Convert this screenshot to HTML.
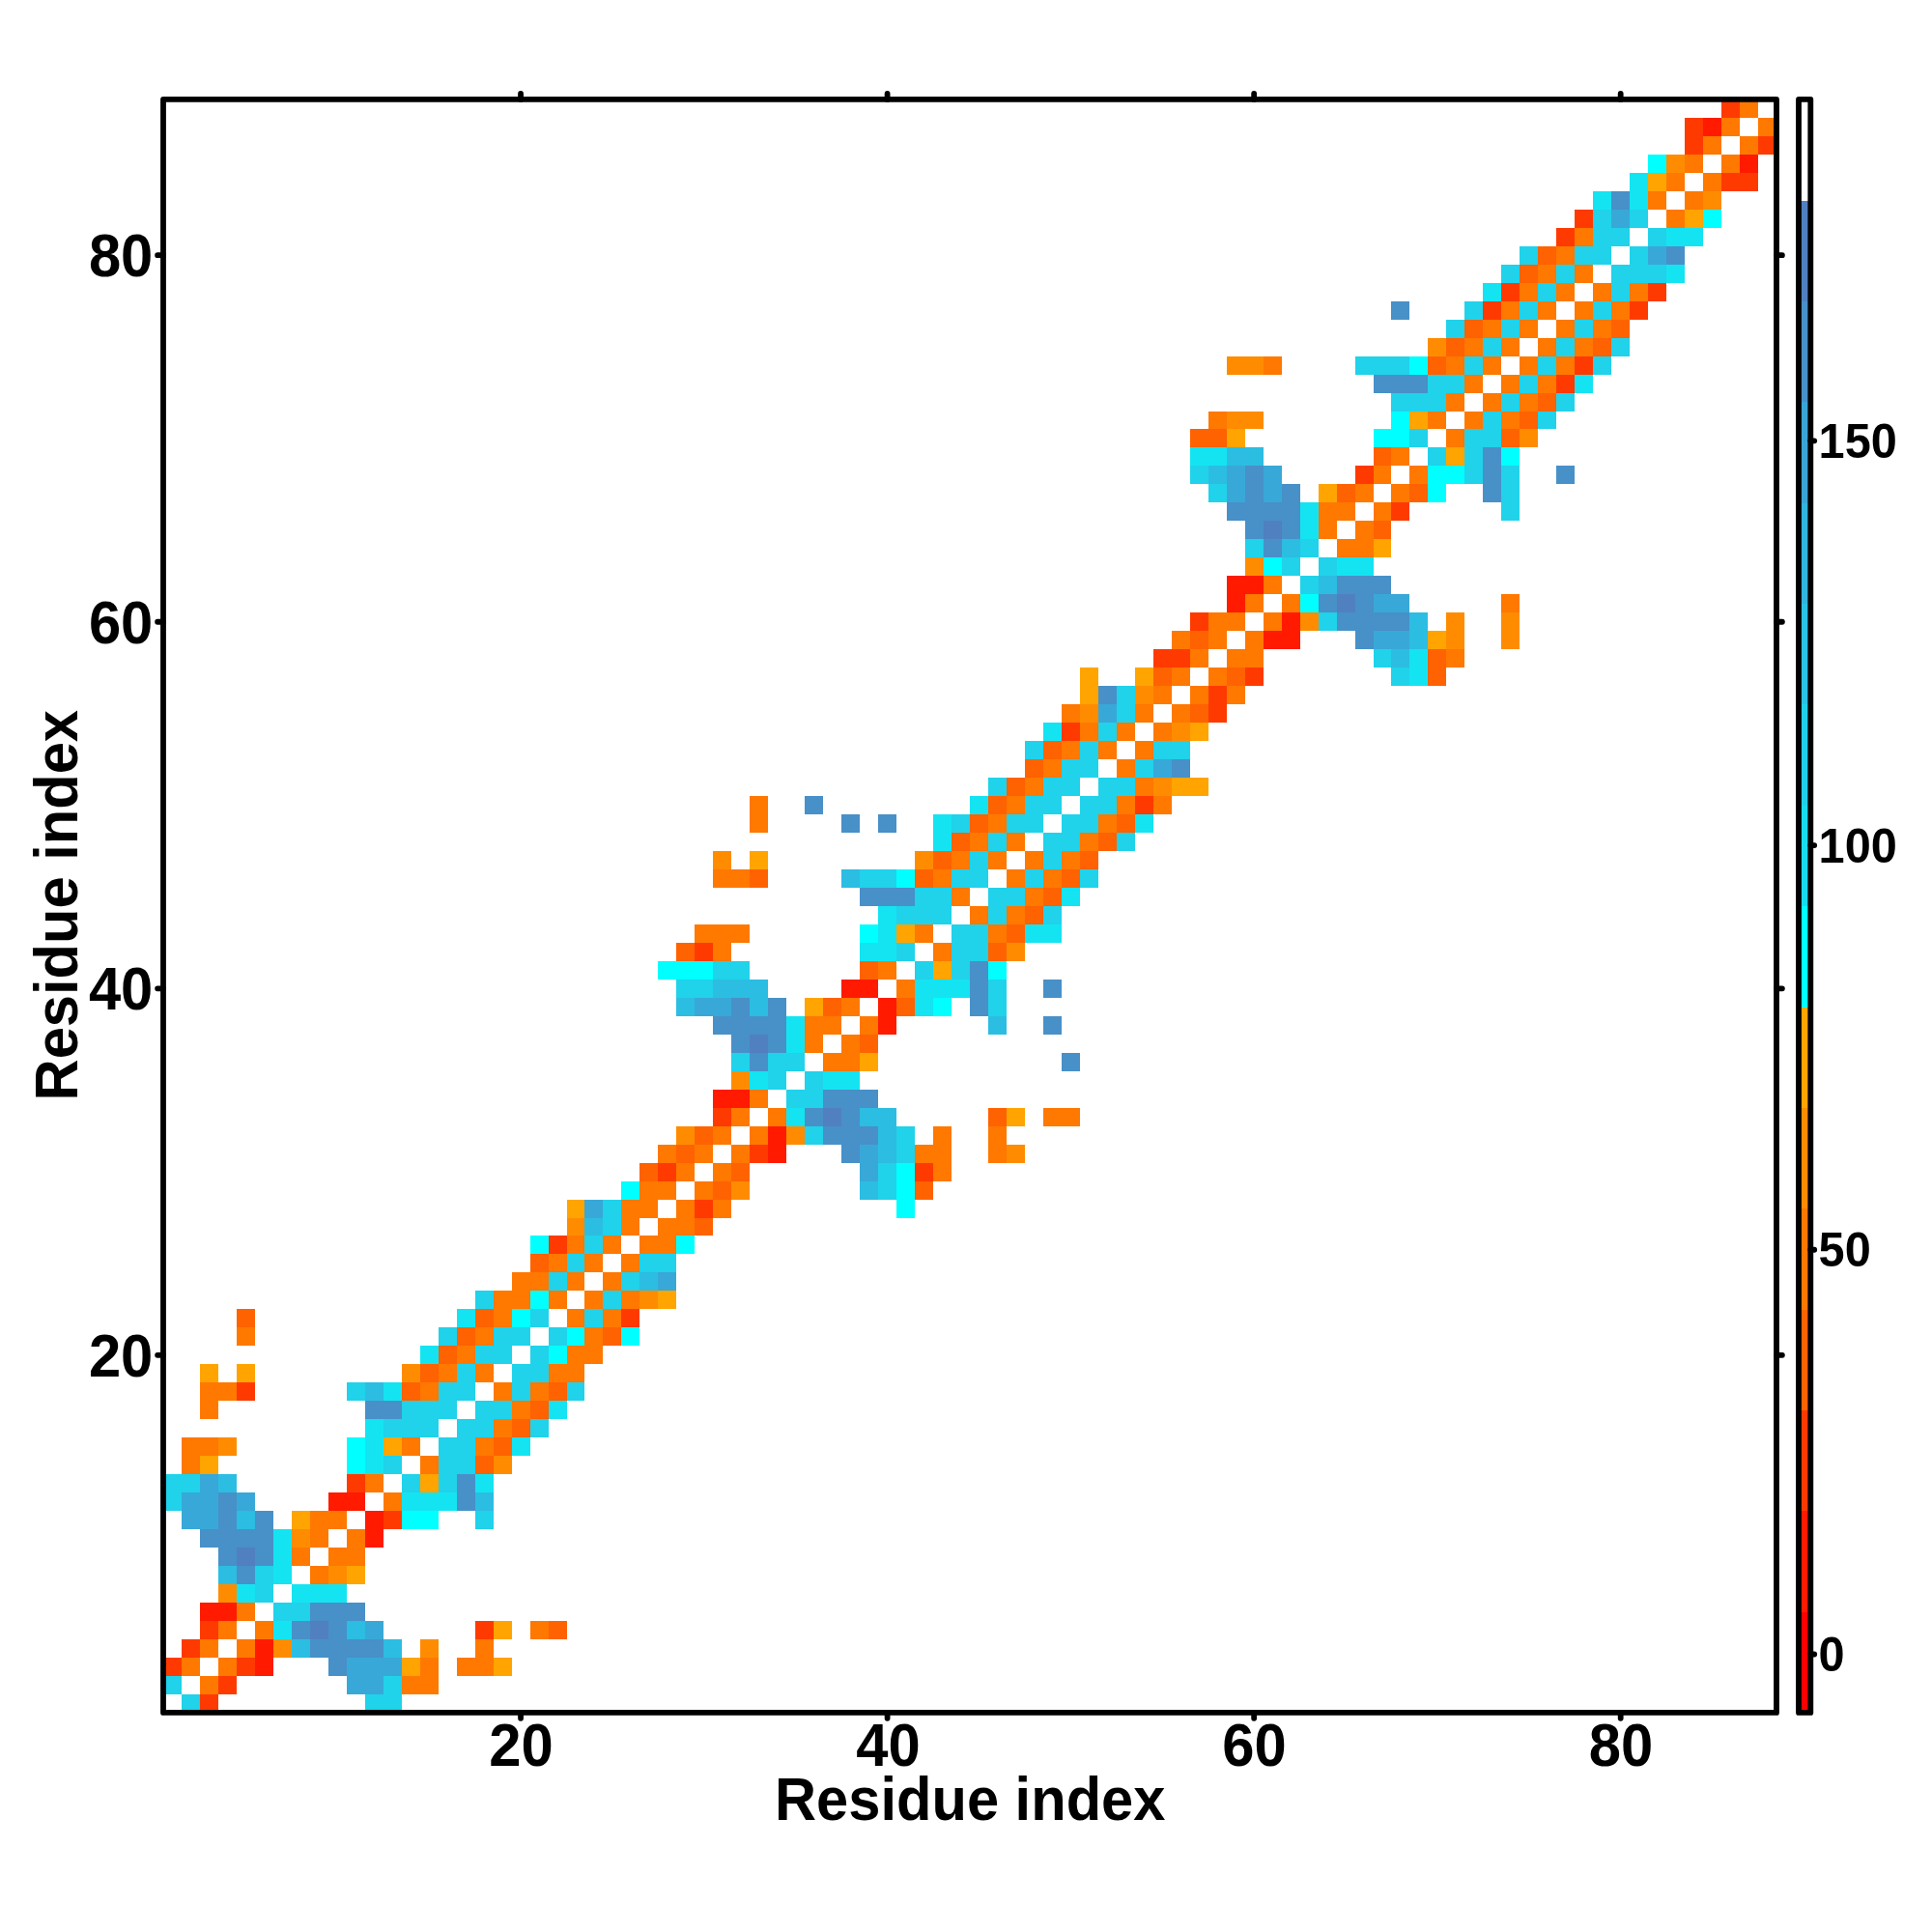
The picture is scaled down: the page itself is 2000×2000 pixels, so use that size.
<!DOCTYPE html><html><head><meta charset="utf-8"><style>html,body{margin:0;padding:0;background:#fff;overflow:hidden}svg{display:block}</style></head><body>
<svg width="2000" height="2000" viewBox="0 0 2000 2000">
<rect width="2000" height="2000" fill="#fff"/>
<g shape-rendering="crispEdges">
<rect x="187.98" y="1753.92" width="18.98" height="18.98" fill="#20d2ea"/>
<rect x="206.95" y="1753.92" width="18.98" height="18.98" fill="#ff3a00"/>
<rect x="377.75" y="1753.92" width="37.95" height="18.98" fill="#20d2ea"/>
<rect x="169.00" y="1734.95" width="18.98" height="18.98" fill="#20d2ea"/>
<rect x="206.95" y="1734.95" width="18.98" height="18.98" fill="#ff7800"/>
<rect x="225.93" y="1734.95" width="18.98" height="18.98" fill="#ff3a00"/>
<rect x="358.77" y="1734.95" width="37.95" height="18.98" fill="#38a8d8"/>
<rect x="396.73" y="1734.95" width="18.98" height="18.98" fill="#20d2ea"/>
<rect x="415.70" y="1734.95" width="37.95" height="18.98" fill="#ff7800"/>
<rect x="169.00" y="1715.97" width="18.98" height="18.98" fill="#ff3a00"/>
<rect x="187.98" y="1715.97" width="18.98" height="18.98" fill="#ff7800"/>
<rect x="225.93" y="1715.97" width="18.98" height="18.98" fill="#ff7800"/>
<rect x="244.91" y="1715.97" width="18.98" height="18.98" fill="#ff3a00"/>
<rect x="263.89" y="1715.97" width="18.98" height="18.98" fill="#ff1a00"/>
<rect x="339.80" y="1715.97" width="18.98" height="18.98" fill="#4890c8"/>
<rect x="358.77" y="1715.97" width="56.93" height="18.98" fill="#38a8d8"/>
<rect x="415.70" y="1715.97" width="18.98" height="18.98" fill="#ffa400"/>
<rect x="434.68" y="1715.97" width="18.98" height="18.98" fill="#ff7800"/>
<rect x="472.64" y="1715.97" width="37.95" height="18.98" fill="#ff7800"/>
<rect x="510.59" y="1715.97" width="18.98" height="18.98" fill="#ffa400"/>
<rect x="187.98" y="1696.99" width="18.98" height="18.98" fill="#ff3a00"/>
<rect x="206.95" y="1696.99" width="18.98" height="18.98" fill="#ff7800"/>
<rect x="244.91" y="1696.99" width="18.98" height="18.98" fill="#ff7800"/>
<rect x="263.89" y="1696.99" width="18.98" height="18.98" fill="#ff1a00"/>
<rect x="282.86" y="1696.99" width="18.98" height="18.98" fill="#ff8c00"/>
<rect x="301.84" y="1696.99" width="18.98" height="18.98" fill="#2cbde2"/>
<rect x="320.82" y="1696.99" width="75.91" height="18.98" fill="#4890c8"/>
<rect x="396.73" y="1696.99" width="18.98" height="18.98" fill="#2cbde2"/>
<rect x="434.68" y="1696.99" width="18.98" height="18.98" fill="#ff8c00"/>
<rect x="491.61" y="1696.99" width="18.98" height="18.98" fill="#ff7800"/>
<rect x="206.95" y="1678.01" width="18.98" height="18.98" fill="#ff3a00"/>
<rect x="225.93" y="1678.01" width="18.98" height="18.98" fill="#ff7800"/>
<rect x="263.89" y="1678.01" width="18.98" height="18.98" fill="#ff7800"/>
<rect x="282.86" y="1678.01" width="18.98" height="18.98" fill="#14e4f2"/>
<rect x="301.84" y="1678.01" width="18.98" height="18.98" fill="#4890c8"/>
<rect x="320.82" y="1678.01" width="18.98" height="18.98" fill="#5080c0"/>
<rect x="339.80" y="1678.01" width="18.98" height="18.98" fill="#4890c8"/>
<rect x="358.77" y="1678.01" width="18.98" height="18.98" fill="#2cbde2"/>
<rect x="377.75" y="1678.01" width="18.98" height="18.98" fill="#38a8d8"/>
<rect x="491.61" y="1678.01" width="18.98" height="18.98" fill="#ff3a00"/>
<rect x="510.59" y="1678.01" width="18.98" height="18.98" fill="#ffa400"/>
<rect x="548.55" y="1678.01" width="18.98" height="18.98" fill="#ff7800"/>
<rect x="567.52" y="1678.01" width="18.98" height="18.98" fill="#ff6200"/>
<rect x="206.95" y="1659.04" width="37.95" height="18.98" fill="#ff1a00"/>
<rect x="244.91" y="1659.04" width="18.98" height="18.98" fill="#ff7800"/>
<rect x="282.86" y="1659.04" width="37.95" height="18.98" fill="#20d2ea"/>
<rect x="320.82" y="1659.04" width="56.93" height="18.98" fill="#4890c8"/>
<rect x="225.93" y="1640.06" width="18.98" height="18.98" fill="#ff8c00"/>
<rect x="244.91" y="1640.06" width="18.98" height="18.98" fill="#14e4f2"/>
<rect x="263.89" y="1640.06" width="18.98" height="18.98" fill="#20d2ea"/>
<rect x="301.84" y="1640.06" width="56.93" height="18.98" fill="#14e4f2"/>
<rect x="225.93" y="1621.08" width="18.98" height="18.98" fill="#2cbde2"/>
<rect x="244.91" y="1621.08" width="18.98" height="18.98" fill="#4890c8"/>
<rect x="263.89" y="1621.08" width="18.98" height="18.98" fill="#20d2ea"/>
<rect x="282.86" y="1621.08" width="18.98" height="18.98" fill="#14e4f2"/>
<rect x="320.82" y="1621.08" width="18.98" height="18.98" fill="#ff7800"/>
<rect x="339.80" y="1621.08" width="18.98" height="18.98" fill="#ff8c00"/>
<rect x="358.77" y="1621.08" width="18.98" height="18.98" fill="#ffa400"/>
<rect x="225.93" y="1602.10" width="18.98" height="18.98" fill="#4890c8"/>
<rect x="244.91" y="1602.10" width="18.98" height="18.98" fill="#5080c0"/>
<rect x="263.89" y="1602.10" width="18.98" height="18.98" fill="#4890c8"/>
<rect x="282.86" y="1602.10" width="18.98" height="18.98" fill="#14e4f2"/>
<rect x="301.84" y="1602.10" width="18.98" height="18.98" fill="#ff7800"/>
<rect x="339.80" y="1602.10" width="37.95" height="18.98" fill="#ff7800"/>
<rect x="206.95" y="1583.13" width="75.91" height="18.98" fill="#4890c8"/>
<rect x="282.86" y="1583.13" width="18.98" height="18.98" fill="#14e4f2"/>
<rect x="301.84" y="1583.13" width="18.98" height="18.98" fill="#ff8c00"/>
<rect x="320.82" y="1583.13" width="18.98" height="18.98" fill="#ff7800"/>
<rect x="358.77" y="1583.13" width="18.98" height="18.98" fill="#ff7800"/>
<rect x="377.75" y="1583.13" width="18.98" height="18.98" fill="#ff1a00"/>
<rect x="187.98" y="1564.15" width="37.95" height="18.98" fill="#38a8d8"/>
<rect x="225.93" y="1564.15" width="18.98" height="18.98" fill="#4890c8"/>
<rect x="244.91" y="1564.15" width="18.98" height="18.98" fill="#2cbde2"/>
<rect x="263.89" y="1564.15" width="18.98" height="18.98" fill="#4890c8"/>
<rect x="301.84" y="1564.15" width="18.98" height="18.98" fill="#ffa400"/>
<rect x="320.82" y="1564.15" width="37.95" height="18.98" fill="#ff7800"/>
<rect x="377.75" y="1564.15" width="18.98" height="18.98" fill="#ff1a00"/>
<rect x="396.73" y="1564.15" width="18.98" height="18.98" fill="#ff3a00"/>
<rect x="415.70" y="1564.15" width="37.95" height="18.98" fill="#00ffff"/>
<rect x="491.61" y="1564.15" width="18.98" height="18.98" fill="#20d2ea"/>
<rect x="169.00" y="1545.17" width="18.98" height="18.98" fill="#20d2ea"/>
<rect x="187.98" y="1545.17" width="37.95" height="18.98" fill="#38a8d8"/>
<rect x="225.93" y="1545.17" width="18.98" height="18.98" fill="#4890c8"/>
<rect x="244.91" y="1545.17" width="18.98" height="18.98" fill="#38a8d8"/>
<rect x="339.80" y="1545.17" width="37.95" height="18.98" fill="#ff1a00"/>
<rect x="396.73" y="1545.17" width="18.98" height="18.98" fill="#ff7800"/>
<rect x="415.70" y="1545.17" width="56.93" height="18.98" fill="#14e4f2"/>
<rect x="472.64" y="1545.17" width="18.98" height="18.98" fill="#4890c8"/>
<rect x="491.61" y="1545.17" width="18.98" height="18.98" fill="#2cbde2"/>
<rect x="169.00" y="1526.20" width="37.95" height="18.98" fill="#20d2ea"/>
<rect x="206.95" y="1526.20" width="18.98" height="18.98" fill="#38a8d8"/>
<rect x="225.93" y="1526.20" width="18.98" height="18.98" fill="#2cbde2"/>
<rect x="358.77" y="1526.20" width="18.98" height="18.98" fill="#ff3a00"/>
<rect x="377.75" y="1526.20" width="18.98" height="18.98" fill="#ff7800"/>
<rect x="415.70" y="1526.20" width="18.98" height="18.98" fill="#20d2ea"/>
<rect x="434.68" y="1526.20" width="18.98" height="18.98" fill="#ffa400"/>
<rect x="453.66" y="1526.20" width="18.98" height="18.98" fill="#20d2ea"/>
<rect x="472.64" y="1526.20" width="18.98" height="18.98" fill="#4890c8"/>
<rect x="491.61" y="1526.20" width="18.98" height="18.98" fill="#14e4f2"/>
<rect x="187.98" y="1507.22" width="18.98" height="18.98" fill="#ff7800"/>
<rect x="206.95" y="1507.22" width="18.98" height="18.98" fill="#ffa400"/>
<rect x="358.77" y="1507.22" width="18.98" height="18.98" fill="#00ffff"/>
<rect x="377.75" y="1507.22" width="18.98" height="18.98" fill="#14e4f2"/>
<rect x="396.73" y="1507.22" width="18.98" height="18.98" fill="#20d2ea"/>
<rect x="434.68" y="1507.22" width="18.98" height="18.98" fill="#ff7800"/>
<rect x="453.66" y="1507.22" width="37.95" height="18.98" fill="#20d2ea"/>
<rect x="491.61" y="1507.22" width="18.98" height="18.98" fill="#ff6200"/>
<rect x="510.59" y="1507.22" width="18.98" height="18.98" fill="#ff8c00"/>
<rect x="187.98" y="1488.24" width="37.95" height="18.98" fill="#ff7800"/>
<rect x="225.93" y="1488.24" width="18.98" height="18.98" fill="#ff8c00"/>
<rect x="358.77" y="1488.24" width="18.98" height="18.98" fill="#00ffff"/>
<rect x="377.75" y="1488.24" width="18.98" height="18.98" fill="#14e4f2"/>
<rect x="396.73" y="1488.24" width="18.98" height="18.98" fill="#ffa400"/>
<rect x="415.70" y="1488.24" width="18.98" height="18.98" fill="#ff7800"/>
<rect x="453.66" y="1488.24" width="37.95" height="18.98" fill="#20d2ea"/>
<rect x="491.61" y="1488.24" width="18.98" height="18.98" fill="#ff7800"/>
<rect x="510.59" y="1488.24" width="18.98" height="18.98" fill="#ff6200"/>
<rect x="529.57" y="1488.24" width="18.98" height="18.98" fill="#14e4f2"/>
<rect x="377.75" y="1469.26" width="18.98" height="18.98" fill="#14e4f2"/>
<rect x="396.73" y="1469.26" width="56.93" height="18.98" fill="#20d2ea"/>
<rect x="472.64" y="1469.26" width="37.95" height="18.98" fill="#20d2ea"/>
<rect x="510.59" y="1469.26" width="18.98" height="18.98" fill="#ff7800"/>
<rect x="529.57" y="1469.26" width="18.98" height="18.98" fill="#ff6200"/>
<rect x="548.55" y="1469.26" width="18.98" height="18.98" fill="#20d2ea"/>
<rect x="206.95" y="1450.29" width="18.98" height="18.98" fill="#ff7800"/>
<rect x="377.75" y="1450.29" width="37.95" height="18.98" fill="#4890c8"/>
<rect x="415.70" y="1450.29" width="56.93" height="18.98" fill="#20d2ea"/>
<rect x="491.61" y="1450.29" width="37.95" height="18.98" fill="#20d2ea"/>
<rect x="529.57" y="1450.29" width="18.98" height="18.98" fill="#ff7800"/>
<rect x="548.55" y="1450.29" width="18.98" height="18.98" fill="#ff6200"/>
<rect x="567.52" y="1450.29" width="18.98" height="18.98" fill="#14e4f2"/>
<rect x="206.95" y="1431.31" width="37.95" height="18.98" fill="#ff7800"/>
<rect x="244.91" y="1431.31" width="18.98" height="18.98" fill="#ff3a00"/>
<rect x="358.77" y="1431.31" width="18.98" height="18.98" fill="#20d2ea"/>
<rect x="377.75" y="1431.31" width="18.98" height="18.98" fill="#2cbde2"/>
<rect x="396.73" y="1431.31" width="18.98" height="18.98" fill="#14e4f2"/>
<rect x="415.70" y="1431.31" width="18.98" height="18.98" fill="#ff6200"/>
<rect x="434.68" y="1431.31" width="18.98" height="18.98" fill="#ff7800"/>
<rect x="453.66" y="1431.31" width="37.95" height="18.98" fill="#20d2ea"/>
<rect x="510.59" y="1431.31" width="18.98" height="18.98" fill="#ff7800"/>
<rect x="529.57" y="1431.31" width="18.98" height="18.98" fill="#20d2ea"/>
<rect x="548.55" y="1431.31" width="18.98" height="18.98" fill="#ff7800"/>
<rect x="567.52" y="1431.31" width="18.98" height="18.98" fill="#ff6200"/>
<rect x="586.50" y="1431.31" width="18.98" height="18.98" fill="#20d2ea"/>
<rect x="206.95" y="1412.33" width="18.98" height="18.98" fill="#ffa400"/>
<rect x="244.91" y="1412.33" width="18.98" height="18.98" fill="#ffa400"/>
<rect x="415.70" y="1412.33" width="18.98" height="18.98" fill="#ff8c00"/>
<rect x="434.68" y="1412.33" width="18.98" height="18.98" fill="#ff6200"/>
<rect x="453.66" y="1412.33" width="18.98" height="18.98" fill="#ff7800"/>
<rect x="472.64" y="1412.33" width="18.98" height="18.98" fill="#20d2ea"/>
<rect x="491.61" y="1412.33" width="18.98" height="18.98" fill="#ff7800"/>
<rect x="529.57" y="1412.33" width="37.95" height="18.98" fill="#20d2ea"/>
<rect x="567.52" y="1412.33" width="37.95" height="18.98" fill="#ff7800"/>
<rect x="434.68" y="1393.35" width="18.98" height="18.98" fill="#14e4f2"/>
<rect x="453.66" y="1393.35" width="18.98" height="18.98" fill="#ff6200"/>
<rect x="472.64" y="1393.35" width="18.98" height="18.98" fill="#ff7800"/>
<rect x="491.61" y="1393.35" width="37.95" height="18.98" fill="#20d2ea"/>
<rect x="548.55" y="1393.35" width="18.98" height="18.98" fill="#20d2ea"/>
<rect x="567.52" y="1393.35" width="18.98" height="18.98" fill="#00ffff"/>
<rect x="586.50" y="1393.35" width="37.95" height="18.98" fill="#ff7800"/>
<rect x="244.91" y="1374.38" width="18.98" height="18.98" fill="#ff7800"/>
<rect x="453.66" y="1374.38" width="18.98" height="18.98" fill="#20d2ea"/>
<rect x="472.64" y="1374.38" width="18.98" height="18.98" fill="#ff6200"/>
<rect x="491.61" y="1374.38" width="18.98" height="18.98" fill="#ff7800"/>
<rect x="510.59" y="1374.38" width="37.95" height="18.98" fill="#20d2ea"/>
<rect x="567.52" y="1374.38" width="18.98" height="18.98" fill="#20d2ea"/>
<rect x="586.50" y="1374.38" width="18.98" height="18.98" fill="#00ffff"/>
<rect x="605.48" y="1374.38" width="18.98" height="18.98" fill="#ff7800"/>
<rect x="624.45" y="1374.38" width="18.98" height="18.98" fill="#ff6200"/>
<rect x="643.43" y="1374.38" width="18.98" height="18.98" fill="#00ffff"/>
<rect x="244.91" y="1355.40" width="18.98" height="18.98" fill="#ff6200"/>
<rect x="472.64" y="1355.40" width="18.98" height="18.98" fill="#14e4f2"/>
<rect x="491.61" y="1355.40" width="18.98" height="18.98" fill="#ff6200"/>
<rect x="510.59" y="1355.40" width="18.98" height="18.98" fill="#ff7800"/>
<rect x="529.57" y="1355.40" width="18.98" height="18.98" fill="#00ffff"/>
<rect x="548.55" y="1355.40" width="18.98" height="18.98" fill="#20d2ea"/>
<rect x="586.50" y="1355.40" width="18.98" height="18.98" fill="#ff7800"/>
<rect x="605.48" y="1355.40" width="18.98" height="18.98" fill="#20d2ea"/>
<rect x="624.45" y="1355.40" width="18.98" height="18.98" fill="#ff7800"/>
<rect x="643.43" y="1355.40" width="18.98" height="18.98" fill="#ff3a00"/>
<rect x="491.61" y="1336.42" width="18.98" height="18.98" fill="#20d2ea"/>
<rect x="510.59" y="1336.42" width="37.95" height="18.98" fill="#ff7800"/>
<rect x="548.55" y="1336.42" width="18.98" height="18.98" fill="#00ffff"/>
<rect x="567.52" y="1336.42" width="18.98" height="18.98" fill="#ff7800"/>
<rect x="605.48" y="1336.42" width="18.98" height="18.98" fill="#ff7800"/>
<rect x="624.45" y="1336.42" width="18.98" height="18.98" fill="#20d2ea"/>
<rect x="643.43" y="1336.42" width="18.98" height="18.98" fill="#ff7800"/>
<rect x="662.41" y="1336.42" width="18.98" height="18.98" fill="#ff8c00"/>
<rect x="681.39" y="1336.42" width="18.98" height="18.98" fill="#ffa400"/>
<rect x="529.57" y="1317.45" width="37.95" height="18.98" fill="#ff7800"/>
<rect x="567.52" y="1317.45" width="18.98" height="18.98" fill="#20d2ea"/>
<rect x="586.50" y="1317.45" width="18.98" height="18.98" fill="#ff7800"/>
<rect x="624.45" y="1317.45" width="18.98" height="18.98" fill="#ff7800"/>
<rect x="643.43" y="1317.45" width="18.98" height="18.98" fill="#20d2ea"/>
<rect x="662.41" y="1317.45" width="18.98" height="18.98" fill="#2cbde2"/>
<rect x="681.39" y="1317.45" width="18.98" height="18.98" fill="#38a8d8"/>
<rect x="548.55" y="1298.47" width="18.98" height="18.98" fill="#ff6200"/>
<rect x="567.52" y="1298.47" width="18.98" height="18.98" fill="#ff7800"/>
<rect x="586.50" y="1298.47" width="18.98" height="18.98" fill="#20d2ea"/>
<rect x="605.48" y="1298.47" width="18.98" height="18.98" fill="#ff7800"/>
<rect x="643.43" y="1298.47" width="18.98" height="18.98" fill="#ff7800"/>
<rect x="662.41" y="1298.47" width="37.95" height="18.98" fill="#20d2ea"/>
<rect x="548.55" y="1279.49" width="18.98" height="18.98" fill="#00ffff"/>
<rect x="567.52" y="1279.49" width="18.98" height="18.98" fill="#ff3a00"/>
<rect x="586.50" y="1279.49" width="18.98" height="18.98" fill="#ff7800"/>
<rect x="605.48" y="1279.49" width="18.98" height="18.98" fill="#20d2ea"/>
<rect x="624.45" y="1279.49" width="18.98" height="18.98" fill="#ff7800"/>
<rect x="662.41" y="1279.49" width="37.95" height="18.98" fill="#ff7800"/>
<rect x="700.36" y="1279.49" width="18.98" height="18.98" fill="#00ffff"/>
<rect x="586.50" y="1260.51" width="18.98" height="18.98" fill="#ff8c00"/>
<rect x="605.48" y="1260.51" width="18.98" height="18.98" fill="#2cbde2"/>
<rect x="624.45" y="1260.51" width="18.98" height="18.98" fill="#20d2ea"/>
<rect x="643.43" y="1260.51" width="18.98" height="18.98" fill="#ff7800"/>
<rect x="681.39" y="1260.51" width="37.95" height="18.98" fill="#ff7800"/>
<rect x="719.34" y="1260.51" width="18.98" height="18.98" fill="#ff6200"/>
<rect x="586.50" y="1241.54" width="18.98" height="18.98" fill="#ffa400"/>
<rect x="605.48" y="1241.54" width="18.98" height="18.98" fill="#38a8d8"/>
<rect x="624.45" y="1241.54" width="18.98" height="18.98" fill="#20d2ea"/>
<rect x="643.43" y="1241.54" width="37.95" height="18.98" fill="#ff7800"/>
<rect x="700.36" y="1241.54" width="18.98" height="18.98" fill="#ff7800"/>
<rect x="719.34" y="1241.54" width="18.98" height="18.98" fill="#ff3a00"/>
<rect x="738.32" y="1241.54" width="18.98" height="18.98" fill="#ff7800"/>
<rect x="928.09" y="1241.54" width="18.98" height="18.98" fill="#00ffff"/>
<rect x="643.43" y="1222.56" width="18.98" height="18.98" fill="#00ffff"/>
<rect x="662.41" y="1222.56" width="37.95" height="18.98" fill="#ff7800"/>
<rect x="719.34" y="1222.56" width="18.98" height="18.98" fill="#ff7800"/>
<rect x="738.32" y="1222.56" width="18.98" height="18.98" fill="#ff6200"/>
<rect x="757.30" y="1222.56" width="18.98" height="18.98" fill="#ff8c00"/>
<rect x="890.14" y="1222.56" width="18.98" height="18.98" fill="#2cbde2"/>
<rect x="909.11" y="1222.56" width="18.98" height="18.98" fill="#20d2ea"/>
<rect x="928.09" y="1222.56" width="18.98" height="18.98" fill="#00ffff"/>
<rect x="947.07" y="1222.56" width="18.98" height="18.98" fill="#ff6200"/>
<rect x="662.41" y="1203.58" width="18.98" height="18.98" fill="#ff6200"/>
<rect x="681.39" y="1203.58" width="18.98" height="18.98" fill="#ff3a00"/>
<rect x="700.36" y="1203.58" width="18.98" height="18.98" fill="#ff7800"/>
<rect x="738.32" y="1203.58" width="18.98" height="18.98" fill="#ff7800"/>
<rect x="757.30" y="1203.58" width="18.98" height="18.98" fill="#ff6200"/>
<rect x="890.14" y="1203.58" width="18.98" height="18.98" fill="#38a8d8"/>
<rect x="909.11" y="1203.58" width="18.98" height="18.98" fill="#20d2ea"/>
<rect x="928.09" y="1203.58" width="18.98" height="18.98" fill="#00ffff"/>
<rect x="947.07" y="1203.58" width="18.98" height="18.98" fill="#ff3a00"/>
<rect x="966.05" y="1203.58" width="18.98" height="18.98" fill="#ff7800"/>
<rect x="681.39" y="1184.60" width="18.98" height="18.98" fill="#ff7800"/>
<rect x="700.36" y="1184.60" width="18.98" height="18.98" fill="#ff6200"/>
<rect x="719.34" y="1184.60" width="18.98" height="18.98" fill="#ff7800"/>
<rect x="757.30" y="1184.60" width="18.98" height="18.98" fill="#ff7800"/>
<rect x="776.27" y="1184.60" width="18.98" height="18.98" fill="#ff3a00"/>
<rect x="795.25" y="1184.60" width="18.98" height="18.98" fill="#ff1a00"/>
<rect x="871.16" y="1184.60" width="18.98" height="18.98" fill="#4890c8"/>
<rect x="890.14" y="1184.60" width="18.98" height="18.98" fill="#38a8d8"/>
<rect x="909.11" y="1184.60" width="18.98" height="18.98" fill="#2cbde2"/>
<rect x="928.09" y="1184.60" width="18.98" height="18.98" fill="#20d2ea"/>
<rect x="947.07" y="1184.60" width="37.95" height="18.98" fill="#ff7800"/>
<rect x="1022.98" y="1184.60" width="18.98" height="18.98" fill="#ff7800"/>
<rect x="1041.95" y="1184.60" width="18.98" height="18.98" fill="#ff8c00"/>
<rect x="700.36" y="1165.63" width="18.98" height="18.98" fill="#ff8c00"/>
<rect x="719.34" y="1165.63" width="18.98" height="18.98" fill="#ff6200"/>
<rect x="738.32" y="1165.63" width="18.98" height="18.98" fill="#ff7800"/>
<rect x="776.27" y="1165.63" width="18.98" height="18.98" fill="#ff7800"/>
<rect x="795.25" y="1165.63" width="18.98" height="18.98" fill="#ff1a00"/>
<rect x="814.23" y="1165.63" width="18.98" height="18.98" fill="#ff8c00"/>
<rect x="833.20" y="1165.63" width="18.98" height="18.98" fill="#20d2ea"/>
<rect x="852.18" y="1165.63" width="56.93" height="18.98" fill="#4890c8"/>
<rect x="909.11" y="1165.63" width="18.98" height="18.98" fill="#2cbde2"/>
<rect x="928.09" y="1165.63" width="18.98" height="18.98" fill="#20d2ea"/>
<rect x="966.05" y="1165.63" width="18.98" height="18.98" fill="#ff7800"/>
<rect x="1022.98" y="1165.63" width="18.98" height="18.98" fill="#ff7800"/>
<rect x="738.32" y="1146.65" width="18.98" height="18.98" fill="#ff3a00"/>
<rect x="757.30" y="1146.65" width="18.98" height="18.98" fill="#ff7800"/>
<rect x="795.25" y="1146.65" width="18.98" height="18.98" fill="#ff7800"/>
<rect x="814.23" y="1146.65" width="18.98" height="18.98" fill="#14e4f2"/>
<rect x="833.20" y="1146.65" width="18.98" height="18.98" fill="#4890c8"/>
<rect x="852.18" y="1146.65" width="18.98" height="18.98" fill="#5080c0"/>
<rect x="871.16" y="1146.65" width="18.98" height="18.98" fill="#4890c8"/>
<rect x="890.14" y="1146.65" width="37.95" height="18.98" fill="#2cbde2"/>
<rect x="1022.98" y="1146.65" width="18.98" height="18.98" fill="#ff6200"/>
<rect x="1041.95" y="1146.65" width="18.98" height="18.98" fill="#ffa400"/>
<rect x="1079.91" y="1146.65" width="37.95" height="18.98" fill="#ff7800"/>
<rect x="738.32" y="1127.67" width="37.95" height="18.98" fill="#ff1a00"/>
<rect x="776.27" y="1127.67" width="18.98" height="18.98" fill="#ff7800"/>
<rect x="814.23" y="1127.67" width="37.95" height="18.98" fill="#20d2ea"/>
<rect x="852.18" y="1127.67" width="56.93" height="18.98" fill="#4890c8"/>
<rect x="757.30" y="1108.70" width="18.98" height="18.98" fill="#ff8c00"/>
<rect x="776.27" y="1108.70" width="18.98" height="18.98" fill="#14e4f2"/>
<rect x="795.25" y="1108.70" width="18.98" height="18.98" fill="#20d2ea"/>
<rect x="833.20" y="1108.70" width="18.98" height="18.98" fill="#20d2ea"/>
<rect x="852.18" y="1108.70" width="37.95" height="18.98" fill="#14e4f2"/>
<rect x="757.30" y="1089.72" width="18.98" height="18.98" fill="#20d2ea"/>
<rect x="776.27" y="1089.72" width="18.98" height="18.98" fill="#4890c8"/>
<rect x="795.25" y="1089.72" width="37.95" height="18.98" fill="#20d2ea"/>
<rect x="852.18" y="1089.72" width="37.95" height="18.98" fill="#ff7800"/>
<rect x="890.14" y="1089.72" width="18.98" height="18.98" fill="#ffa400"/>
<rect x="1098.89" y="1089.72" width="18.98" height="18.98" fill="#4890c8"/>
<rect x="757.30" y="1070.74" width="18.98" height="18.98" fill="#4890c8"/>
<rect x="776.27" y="1070.74" width="18.98" height="18.98" fill="#5080c0"/>
<rect x="795.25" y="1070.74" width="18.98" height="18.98" fill="#4890c8"/>
<rect x="814.23" y="1070.74" width="18.98" height="18.98" fill="#14e4f2"/>
<rect x="833.20" y="1070.74" width="18.98" height="18.98" fill="#ff7800"/>
<rect x="871.16" y="1070.74" width="18.98" height="18.98" fill="#ff7800"/>
<rect x="890.14" y="1070.74" width="18.98" height="18.98" fill="#ff6200"/>
<rect x="738.32" y="1051.76" width="75.91" height="18.98" fill="#4890c8"/>
<rect x="814.23" y="1051.76" width="18.98" height="18.98" fill="#14e4f2"/>
<rect x="833.20" y="1051.76" width="37.95" height="18.98" fill="#ff7800"/>
<rect x="890.14" y="1051.76" width="18.98" height="18.98" fill="#ff7800"/>
<rect x="909.11" y="1051.76" width="18.98" height="18.98" fill="#ff1a00"/>
<rect x="1022.98" y="1051.76" width="18.98" height="18.98" fill="#2cbde2"/>
<rect x="1079.91" y="1051.76" width="18.98" height="18.98" fill="#4890c8"/>
<rect x="700.36" y="1032.79" width="18.98" height="18.98" fill="#2cbde2"/>
<rect x="719.34" y="1032.79" width="37.95" height="18.98" fill="#38a8d8"/>
<rect x="757.30" y="1032.79" width="18.98" height="18.98" fill="#4890c8"/>
<rect x="776.27" y="1032.79" width="18.98" height="18.98" fill="#2cbde2"/>
<rect x="795.25" y="1032.79" width="18.98" height="18.98" fill="#4890c8"/>
<rect x="833.20" y="1032.79" width="18.98" height="18.98" fill="#ffa400"/>
<rect x="852.18" y="1032.79" width="18.98" height="18.98" fill="#ff6200"/>
<rect x="871.16" y="1032.79" width="18.98" height="18.98" fill="#ff7800"/>
<rect x="909.11" y="1032.79" width="18.98" height="18.98" fill="#ff1a00"/>
<rect x="928.09" y="1032.79" width="18.98" height="18.98" fill="#ff6200"/>
<rect x="947.07" y="1032.79" width="18.98" height="18.98" fill="#14e4f2"/>
<rect x="966.05" y="1032.79" width="18.98" height="18.98" fill="#00ffff"/>
<rect x="1004.00" y="1032.79" width="18.98" height="18.98" fill="#4890c8"/>
<rect x="1022.98" y="1032.79" width="18.98" height="18.98" fill="#20d2ea"/>
<rect x="700.36" y="1013.81" width="37.95" height="18.98" fill="#20d2ea"/>
<rect x="738.32" y="1013.81" width="56.93" height="18.98" fill="#2cbde2"/>
<rect x="871.16" y="1013.81" width="37.95" height="18.98" fill="#ff1a00"/>
<rect x="928.09" y="1013.81" width="18.98" height="18.98" fill="#ff7800"/>
<rect x="947.07" y="1013.81" width="56.93" height="18.98" fill="#14e4f2"/>
<rect x="1004.00" y="1013.81" width="18.98" height="18.98" fill="#4890c8"/>
<rect x="1022.98" y="1013.81" width="18.98" height="18.98" fill="#20d2ea"/>
<rect x="1079.91" y="1013.81" width="18.98" height="18.98" fill="#4890c8"/>
<rect x="681.39" y="994.83" width="56.93" height="18.98" fill="#00ffff"/>
<rect x="738.32" y="994.83" width="37.95" height="18.98" fill="#20d2ea"/>
<rect x="890.14" y="994.83" width="18.98" height="18.98" fill="#ff6200"/>
<rect x="909.11" y="994.83" width="18.98" height="18.98" fill="#ff7800"/>
<rect x="947.07" y="994.83" width="18.98" height="18.98" fill="#20d2ea"/>
<rect x="966.05" y="994.83" width="18.98" height="18.98" fill="#ffa400"/>
<rect x="985.02" y="994.83" width="18.98" height="18.98" fill="#20d2ea"/>
<rect x="1004.00" y="994.83" width="18.98" height="18.98" fill="#4890c8"/>
<rect x="1022.98" y="994.83" width="18.98" height="18.98" fill="#00ffff"/>
<rect x="700.36" y="975.85" width="18.98" height="18.98" fill="#ff6200"/>
<rect x="719.34" y="975.85" width="18.98" height="18.98" fill="#ff3a00"/>
<rect x="738.32" y="975.85" width="18.98" height="18.98" fill="#ff7800"/>
<rect x="890.14" y="975.85" width="37.95" height="18.98" fill="#14e4f2"/>
<rect x="928.09" y="975.85" width="18.98" height="18.98" fill="#20d2ea"/>
<rect x="966.05" y="975.85" width="18.98" height="18.98" fill="#ff7800"/>
<rect x="985.02" y="975.85" width="37.95" height="18.98" fill="#20d2ea"/>
<rect x="1022.98" y="975.85" width="18.98" height="18.98" fill="#ff6200"/>
<rect x="1041.95" y="975.85" width="18.98" height="18.98" fill="#ff8c00"/>
<rect x="719.34" y="956.88" width="56.93" height="18.98" fill="#ff7800"/>
<rect x="890.14" y="956.88" width="18.98" height="18.98" fill="#00ffff"/>
<rect x="909.11" y="956.88" width="18.98" height="18.98" fill="#14e4f2"/>
<rect x="928.09" y="956.88" width="18.98" height="18.98" fill="#ffa400"/>
<rect x="947.07" y="956.88" width="18.98" height="18.98" fill="#ff7800"/>
<rect x="985.02" y="956.88" width="37.95" height="18.98" fill="#20d2ea"/>
<rect x="1022.98" y="956.88" width="18.98" height="18.98" fill="#ff7800"/>
<rect x="1041.95" y="956.88" width="18.98" height="18.98" fill="#ff6200"/>
<rect x="1060.93" y="956.88" width="37.95" height="18.98" fill="#14e4f2"/>
<rect x="909.11" y="937.90" width="18.98" height="18.98" fill="#14e4f2"/>
<rect x="928.09" y="937.90" width="56.93" height="18.98" fill="#20d2ea"/>
<rect x="1004.00" y="937.90" width="18.98" height="18.98" fill="#ff7800"/>
<rect x="1022.98" y="937.90" width="18.98" height="18.98" fill="#20d2ea"/>
<rect x="1041.95" y="937.90" width="18.98" height="18.98" fill="#ff7800"/>
<rect x="1060.93" y="937.90" width="18.98" height="18.98" fill="#ff6200"/>
<rect x="1079.91" y="937.90" width="18.98" height="18.98" fill="#20d2ea"/>
<rect x="890.14" y="918.92" width="56.93" height="18.98" fill="#4890c8"/>
<rect x="947.07" y="918.92" width="37.95" height="18.98" fill="#20d2ea"/>
<rect x="985.02" y="918.92" width="18.98" height="18.98" fill="#ff7800"/>
<rect x="1022.98" y="918.92" width="37.95" height="18.98" fill="#20d2ea"/>
<rect x="1060.93" y="918.92" width="18.98" height="18.98" fill="#ff7800"/>
<rect x="1079.91" y="918.92" width="18.98" height="18.98" fill="#ff6200"/>
<rect x="1098.89" y="918.92" width="18.98" height="18.98" fill="#14e4f2"/>
<rect x="738.32" y="899.95" width="37.95" height="18.98" fill="#ff7800"/>
<rect x="776.27" y="899.95" width="18.98" height="18.98" fill="#ff6200"/>
<rect x="871.16" y="899.95" width="18.98" height="18.98" fill="#2cbde2"/>
<rect x="890.14" y="899.95" width="37.95" height="18.98" fill="#20d2ea"/>
<rect x="928.09" y="899.95" width="18.98" height="18.98" fill="#00ffff"/>
<rect x="947.07" y="899.95" width="18.98" height="18.98" fill="#ff6200"/>
<rect x="966.05" y="899.95" width="18.98" height="18.98" fill="#ff7800"/>
<rect x="985.02" y="899.95" width="37.95" height="18.98" fill="#20d2ea"/>
<rect x="1041.95" y="899.95" width="18.98" height="18.98" fill="#ff7800"/>
<rect x="1060.93" y="899.95" width="18.98" height="18.98" fill="#20d2ea"/>
<rect x="1079.91" y="899.95" width="18.98" height="18.98" fill="#ff7800"/>
<rect x="1098.89" y="899.95" width="18.98" height="18.98" fill="#ff6200"/>
<rect x="1117.86" y="899.95" width="18.98" height="18.98" fill="#20d2ea"/>
<rect x="738.32" y="880.97" width="18.98" height="18.98" fill="#ff8c00"/>
<rect x="776.27" y="880.97" width="18.98" height="18.98" fill="#ffa400"/>
<rect x="947.07" y="880.97" width="18.98" height="18.98" fill="#ff8c00"/>
<rect x="966.05" y="880.97" width="18.98" height="18.98" fill="#ff6200"/>
<rect x="985.02" y="880.97" width="18.98" height="18.98" fill="#ff7800"/>
<rect x="1004.00" y="880.97" width="18.98" height="18.98" fill="#20d2ea"/>
<rect x="1022.98" y="880.97" width="18.98" height="18.98" fill="#ff7800"/>
<rect x="1060.93" y="880.97" width="18.98" height="18.98" fill="#ff7800"/>
<rect x="1079.91" y="880.97" width="18.98" height="18.98" fill="#20d2ea"/>
<rect x="1098.89" y="880.97" width="18.98" height="18.98" fill="#ff7800"/>
<rect x="1117.86" y="880.97" width="18.98" height="18.98" fill="#ff6200"/>
<rect x="966.05" y="861.99" width="18.98" height="18.98" fill="#14e4f2"/>
<rect x="985.02" y="861.99" width="18.98" height="18.98" fill="#ff6200"/>
<rect x="1004.00" y="861.99" width="18.98" height="18.98" fill="#ff7800"/>
<rect x="1022.98" y="861.99" width="18.98" height="18.98" fill="#20d2ea"/>
<rect x="1041.95" y="861.99" width="18.98" height="18.98" fill="#ff7800"/>
<rect x="1079.91" y="861.99" width="37.95" height="18.98" fill="#20d2ea"/>
<rect x="1117.86" y="861.99" width="18.98" height="18.98" fill="#ff7800"/>
<rect x="1136.84" y="861.99" width="18.98" height="18.98" fill="#ff6200"/>
<rect x="1155.82" y="861.99" width="18.98" height="18.98" fill="#20d2ea"/>
<rect x="776.27" y="843.01" width="18.98" height="18.98" fill="#ff7800"/>
<rect x="871.16" y="843.01" width="18.98" height="18.98" fill="#4890c8"/>
<rect x="909.11" y="843.01" width="18.98" height="18.98" fill="#4890c8"/>
<rect x="966.05" y="843.01" width="18.98" height="18.98" fill="#14e4f2"/>
<rect x="985.02" y="843.01" width="18.98" height="18.98" fill="#20d2ea"/>
<rect x="1004.00" y="843.01" width="18.98" height="18.98" fill="#ff6200"/>
<rect x="1022.98" y="843.01" width="18.98" height="18.98" fill="#ff7800"/>
<rect x="1041.95" y="843.01" width="37.95" height="18.98" fill="#20d2ea"/>
<rect x="1098.89" y="843.01" width="37.95" height="18.98" fill="#20d2ea"/>
<rect x="1136.84" y="843.01" width="18.98" height="18.98" fill="#ff7800"/>
<rect x="1155.82" y="843.01" width="18.98" height="18.98" fill="#ff6200"/>
<rect x="1174.80" y="843.01" width="18.98" height="18.98" fill="#14e4f2"/>
<rect x="776.27" y="824.04" width="18.98" height="18.98" fill="#ff7800"/>
<rect x="833.20" y="824.04" width="18.98" height="18.98" fill="#4890c8"/>
<rect x="1004.00" y="824.04" width="18.98" height="18.98" fill="#14e4f2"/>
<rect x="1022.98" y="824.04" width="18.98" height="18.98" fill="#ff6200"/>
<rect x="1041.95" y="824.04" width="18.98" height="18.98" fill="#ff7800"/>
<rect x="1060.93" y="824.04" width="37.95" height="18.98" fill="#20d2ea"/>
<rect x="1117.86" y="824.04" width="37.95" height="18.98" fill="#20d2ea"/>
<rect x="1155.82" y="824.04" width="18.98" height="18.98" fill="#ff7800"/>
<rect x="1174.80" y="824.04" width="18.98" height="18.98" fill="#ff3a00"/>
<rect x="1193.77" y="824.04" width="18.98" height="18.98" fill="#ff7800"/>
<rect x="1022.98" y="805.06" width="18.98" height="18.98" fill="#20d2ea"/>
<rect x="1041.95" y="805.06" width="18.98" height="18.98" fill="#ff6200"/>
<rect x="1060.93" y="805.06" width="18.98" height="18.98" fill="#ff7800"/>
<rect x="1079.91" y="805.06" width="37.95" height="18.98" fill="#20d2ea"/>
<rect x="1136.84" y="805.06" width="37.95" height="18.98" fill="#20d2ea"/>
<rect x="1174.80" y="805.06" width="18.98" height="18.98" fill="#ff7800"/>
<rect x="1193.77" y="805.06" width="18.98" height="18.98" fill="#ff8c00"/>
<rect x="1212.75" y="805.06" width="37.95" height="18.98" fill="#ffa400"/>
<rect x="1060.93" y="786.08" width="18.98" height="18.98" fill="#ff6200"/>
<rect x="1079.91" y="786.08" width="18.98" height="18.98" fill="#ff7800"/>
<rect x="1098.89" y="786.08" width="37.95" height="18.98" fill="#20d2ea"/>
<rect x="1155.82" y="786.08" width="18.98" height="18.98" fill="#ff7800"/>
<rect x="1174.80" y="786.08" width="18.98" height="18.98" fill="#20d2ea"/>
<rect x="1193.77" y="786.08" width="18.98" height="18.98" fill="#38a8d8"/>
<rect x="1212.75" y="786.08" width="18.98" height="18.98" fill="#4890c8"/>
<rect x="1060.93" y="767.10" width="18.98" height="18.98" fill="#20d2ea"/>
<rect x="1079.91" y="767.10" width="18.98" height="18.98" fill="#ff6200"/>
<rect x="1098.89" y="767.10" width="18.98" height="18.98" fill="#ff7800"/>
<rect x="1117.86" y="767.10" width="18.98" height="18.98" fill="#20d2ea"/>
<rect x="1136.84" y="767.10" width="18.98" height="18.98" fill="#ff7800"/>
<rect x="1174.80" y="767.10" width="18.98" height="18.98" fill="#ff7800"/>
<rect x="1193.77" y="767.10" width="37.95" height="18.98" fill="#20d2ea"/>
<rect x="1079.91" y="748.13" width="18.98" height="18.98" fill="#14e4f2"/>
<rect x="1098.89" y="748.13" width="18.98" height="18.98" fill="#ff3a00"/>
<rect x="1117.86" y="748.13" width="18.98" height="18.98" fill="#ff7800"/>
<rect x="1136.84" y="748.13" width="18.98" height="18.98" fill="#20d2ea"/>
<rect x="1155.82" y="748.13" width="18.98" height="18.98" fill="#ff7800"/>
<rect x="1193.77" y="748.13" width="18.98" height="18.98" fill="#ff7800"/>
<rect x="1212.75" y="748.13" width="18.98" height="18.98" fill="#ff8c00"/>
<rect x="1231.73" y="748.13" width="18.98" height="18.98" fill="#ffa400"/>
<rect x="1098.89" y="729.15" width="18.98" height="18.98" fill="#ff7800"/>
<rect x="1117.86" y="729.15" width="18.98" height="18.98" fill="#ff8c00"/>
<rect x="1136.84" y="729.15" width="18.98" height="18.98" fill="#38a8d8"/>
<rect x="1155.82" y="729.15" width="18.98" height="18.98" fill="#20d2ea"/>
<rect x="1174.80" y="729.15" width="18.98" height="18.98" fill="#ff7800"/>
<rect x="1212.75" y="729.15" width="18.98" height="18.98" fill="#ff7800"/>
<rect x="1231.73" y="729.15" width="18.98" height="18.98" fill="#ff6200"/>
<rect x="1250.70" y="729.15" width="18.98" height="18.98" fill="#ff3a00"/>
<rect x="1117.86" y="710.17" width="18.98" height="18.98" fill="#ffa400"/>
<rect x="1136.84" y="710.17" width="18.98" height="18.98" fill="#4890c8"/>
<rect x="1155.82" y="710.17" width="18.98" height="18.98" fill="#20d2ea"/>
<rect x="1174.80" y="710.17" width="18.98" height="18.98" fill="#ff8c00"/>
<rect x="1193.77" y="710.17" width="18.98" height="18.98" fill="#ff7800"/>
<rect x="1231.73" y="710.17" width="18.98" height="18.98" fill="#ff7800"/>
<rect x="1250.70" y="710.17" width="18.98" height="18.98" fill="#ff3a00"/>
<rect x="1269.68" y="710.17" width="18.98" height="18.98" fill="#ff7800"/>
<rect x="1117.86" y="691.20" width="18.98" height="18.98" fill="#ffa400"/>
<rect x="1174.80" y="691.20" width="18.98" height="18.98" fill="#ffa400"/>
<rect x="1193.77" y="691.20" width="18.98" height="18.98" fill="#ff6200"/>
<rect x="1212.75" y="691.20" width="18.98" height="18.98" fill="#ff7800"/>
<rect x="1250.70" y="691.20" width="18.98" height="18.98" fill="#ff7800"/>
<rect x="1269.68" y="691.20" width="18.98" height="18.98" fill="#ff6200"/>
<rect x="1288.66" y="691.20" width="18.98" height="18.98" fill="#ff3a00"/>
<rect x="1440.48" y="691.20" width="18.98" height="18.98" fill="#20d2ea"/>
<rect x="1459.45" y="691.20" width="18.98" height="18.98" fill="#14e4f2"/>
<rect x="1478.43" y="691.20" width="18.98" height="18.98" fill="#ff6200"/>
<rect x="1193.77" y="672.22" width="37.95" height="18.98" fill="#ff3a00"/>
<rect x="1231.73" y="672.22" width="18.98" height="18.98" fill="#ff7800"/>
<rect x="1269.68" y="672.22" width="37.95" height="18.98" fill="#ff7800"/>
<rect x="1421.50" y="672.22" width="18.98" height="18.98" fill="#20d2ea"/>
<rect x="1440.48" y="672.22" width="18.98" height="18.98" fill="#2cbde2"/>
<rect x="1459.45" y="672.22" width="18.98" height="18.98" fill="#14e4f2"/>
<rect x="1478.43" y="672.22" width="18.98" height="18.98" fill="#ff6200"/>
<rect x="1497.41" y="672.22" width="18.98" height="18.98" fill="#ff7800"/>
<rect x="1212.75" y="653.24" width="18.98" height="18.98" fill="#ff7800"/>
<rect x="1231.73" y="653.24" width="18.98" height="18.98" fill="#ff6200"/>
<rect x="1250.70" y="653.24" width="18.98" height="18.98" fill="#ff7800"/>
<rect x="1288.66" y="653.24" width="18.98" height="18.98" fill="#ff7800"/>
<rect x="1307.64" y="653.24" width="37.95" height="18.98" fill="#ff1a00"/>
<rect x="1402.52" y="653.24" width="18.98" height="18.98" fill="#4890c8"/>
<rect x="1421.50" y="653.24" width="37.95" height="18.98" fill="#38a8d8"/>
<rect x="1459.45" y="653.24" width="18.98" height="18.98" fill="#2cbde2"/>
<rect x="1478.43" y="653.24" width="18.98" height="18.98" fill="#ffa400"/>
<rect x="1497.41" y="653.24" width="18.98" height="18.98" fill="#ff8c00"/>
<rect x="1554.34" y="653.24" width="18.98" height="18.98" fill="#ff8c00"/>
<rect x="1231.73" y="634.26" width="18.98" height="18.98" fill="#ff3a00"/>
<rect x="1250.70" y="634.26" width="37.95" height="18.98" fill="#ff7800"/>
<rect x="1307.64" y="634.26" width="18.98" height="18.98" fill="#ff7800"/>
<rect x="1326.61" y="634.26" width="18.98" height="18.98" fill="#ff1a00"/>
<rect x="1345.59" y="634.26" width="18.98" height="18.98" fill="#ff8c00"/>
<rect x="1364.57" y="634.26" width="18.98" height="18.98" fill="#20d2ea"/>
<rect x="1383.55" y="634.26" width="75.91" height="18.98" fill="#4890c8"/>
<rect x="1459.45" y="634.26" width="18.98" height="18.98" fill="#2cbde2"/>
<rect x="1497.41" y="634.26" width="18.98" height="18.98" fill="#ff8c00"/>
<rect x="1554.34" y="634.26" width="18.98" height="18.98" fill="#ff8c00"/>
<rect x="1269.68" y="615.29" width="18.98" height="18.98" fill="#ff1a00"/>
<rect x="1288.66" y="615.29" width="18.98" height="18.98" fill="#ff7800"/>
<rect x="1326.61" y="615.29" width="18.98" height="18.98" fill="#ff7800"/>
<rect x="1345.59" y="615.29" width="18.98" height="18.98" fill="#00ffff"/>
<rect x="1364.57" y="615.29" width="18.98" height="18.98" fill="#4890c8"/>
<rect x="1383.55" y="615.29" width="18.98" height="18.98" fill="#5080c0"/>
<rect x="1402.52" y="615.29" width="18.98" height="18.98" fill="#4890c8"/>
<rect x="1421.50" y="615.29" width="37.95" height="18.98" fill="#38a8d8"/>
<rect x="1554.34" y="615.29" width="18.98" height="18.98" fill="#ff7800"/>
<rect x="1269.68" y="596.31" width="37.95" height="18.98" fill="#ff1a00"/>
<rect x="1307.64" y="596.31" width="18.98" height="18.98" fill="#ff7800"/>
<rect x="1345.59" y="596.31" width="18.98" height="18.98" fill="#20d2ea"/>
<rect x="1364.57" y="596.31" width="18.98" height="18.98" fill="#2cbde2"/>
<rect x="1383.55" y="596.31" width="56.93" height="18.98" fill="#4890c8"/>
<rect x="1288.66" y="577.33" width="18.98" height="18.98" fill="#ff8c00"/>
<rect x="1307.64" y="577.33" width="18.98" height="18.98" fill="#00ffff"/>
<rect x="1326.61" y="577.33" width="18.98" height="18.98" fill="#20d2ea"/>
<rect x="1364.57" y="577.33" width="18.98" height="18.98" fill="#20d2ea"/>
<rect x="1383.55" y="577.33" width="37.95" height="18.98" fill="#14e4f2"/>
<rect x="1288.66" y="558.35" width="18.98" height="18.98" fill="#20d2ea"/>
<rect x="1307.64" y="558.35" width="18.98" height="18.98" fill="#4890c8"/>
<rect x="1326.61" y="558.35" width="18.98" height="18.98" fill="#2cbde2"/>
<rect x="1345.59" y="558.35" width="18.98" height="18.98" fill="#20d2ea"/>
<rect x="1383.55" y="558.35" width="37.95" height="18.98" fill="#ff7800"/>
<rect x="1421.50" y="558.35" width="18.98" height="18.98" fill="#ffa400"/>
<rect x="1288.66" y="539.38" width="18.98" height="18.98" fill="#4890c8"/>
<rect x="1307.64" y="539.38" width="18.98" height="18.98" fill="#5080c0"/>
<rect x="1326.61" y="539.38" width="18.98" height="18.98" fill="#4890c8"/>
<rect x="1345.59" y="539.38" width="18.98" height="18.98" fill="#14e4f2"/>
<rect x="1364.57" y="539.38" width="18.98" height="18.98" fill="#ff7800"/>
<rect x="1402.52" y="539.38" width="18.98" height="18.98" fill="#ff7800"/>
<rect x="1421.50" y="539.38" width="18.98" height="18.98" fill="#ff6200"/>
<rect x="1269.68" y="520.40" width="75.91" height="18.98" fill="#4890c8"/>
<rect x="1345.59" y="520.40" width="18.98" height="18.98" fill="#14e4f2"/>
<rect x="1364.57" y="520.40" width="37.95" height="18.98" fill="#ff7800"/>
<rect x="1421.50" y="520.40" width="18.98" height="18.98" fill="#ff7800"/>
<rect x="1440.48" y="520.40" width="18.98" height="18.98" fill="#ff3a00"/>
<rect x="1554.34" y="520.40" width="18.98" height="18.98" fill="#20d2ea"/>
<rect x="1250.70" y="501.42" width="18.98" height="18.98" fill="#20d2ea"/>
<rect x="1269.68" y="501.42" width="18.98" height="18.98" fill="#38a8d8"/>
<rect x="1288.66" y="501.42" width="18.98" height="18.98" fill="#4890c8"/>
<rect x="1307.64" y="501.42" width="18.98" height="18.98" fill="#38a8d8"/>
<rect x="1326.61" y="501.42" width="18.98" height="18.98" fill="#4890c8"/>
<rect x="1364.57" y="501.42" width="18.98" height="18.98" fill="#ffa400"/>
<rect x="1383.55" y="501.42" width="18.98" height="18.98" fill="#ff6200"/>
<rect x="1402.52" y="501.42" width="18.98" height="18.98" fill="#ff7800"/>
<rect x="1440.48" y="501.42" width="18.98" height="18.98" fill="#ff7800"/>
<rect x="1459.45" y="501.42" width="18.98" height="18.98" fill="#ff6200"/>
<rect x="1478.43" y="501.42" width="18.98" height="18.98" fill="#00ffff"/>
<rect x="1535.36" y="501.42" width="18.98" height="18.98" fill="#4890c8"/>
<rect x="1554.34" y="501.42" width="18.98" height="18.98" fill="#20d2ea"/>
<rect x="1231.73" y="482.45" width="18.98" height="18.98" fill="#20d2ea"/>
<rect x="1250.70" y="482.45" width="18.98" height="18.98" fill="#2cbde2"/>
<rect x="1269.68" y="482.45" width="18.98" height="18.98" fill="#38a8d8"/>
<rect x="1288.66" y="482.45" width="18.98" height="18.98" fill="#4890c8"/>
<rect x="1307.64" y="482.45" width="18.98" height="18.98" fill="#38a8d8"/>
<rect x="1402.52" y="482.45" width="18.98" height="18.98" fill="#ff3a00"/>
<rect x="1421.50" y="482.45" width="18.98" height="18.98" fill="#ff7800"/>
<rect x="1459.45" y="482.45" width="18.98" height="18.98" fill="#ff7800"/>
<rect x="1478.43" y="482.45" width="37.95" height="18.98" fill="#00ffff"/>
<rect x="1516.39" y="482.45" width="18.98" height="18.98" fill="#20d2ea"/>
<rect x="1535.36" y="482.45" width="18.98" height="18.98" fill="#4890c8"/>
<rect x="1554.34" y="482.45" width="18.98" height="18.98" fill="#20d2ea"/>
<rect x="1611.27" y="482.45" width="18.98" height="18.98" fill="#4890c8"/>
<rect x="1231.73" y="463.47" width="37.95" height="18.98" fill="#14e4f2"/>
<rect x="1269.68" y="463.47" width="37.95" height="18.98" fill="#2cbde2"/>
<rect x="1421.50" y="463.47" width="18.98" height="18.98" fill="#ff6200"/>
<rect x="1440.48" y="463.47" width="18.98" height="18.98" fill="#ff7800"/>
<rect x="1478.43" y="463.47" width="18.98" height="18.98" fill="#20d2ea"/>
<rect x="1497.41" y="463.47" width="18.98" height="18.98" fill="#ffa400"/>
<rect x="1516.39" y="463.47" width="18.98" height="18.98" fill="#20d2ea"/>
<rect x="1535.36" y="463.47" width="18.98" height="18.98" fill="#4890c8"/>
<rect x="1554.34" y="463.47" width="18.98" height="18.98" fill="#00ffff"/>
<rect x="1231.73" y="444.49" width="37.95" height="18.98" fill="#ff6200"/>
<rect x="1269.68" y="444.49" width="18.98" height="18.98" fill="#ffa400"/>
<rect x="1421.50" y="444.49" width="37.95" height="18.98" fill="#00ffff"/>
<rect x="1459.45" y="444.49" width="18.98" height="18.98" fill="#20d2ea"/>
<rect x="1497.41" y="444.49" width="18.98" height="18.98" fill="#ff7800"/>
<rect x="1516.39" y="444.49" width="37.95" height="18.98" fill="#20d2ea"/>
<rect x="1554.34" y="444.49" width="18.98" height="18.98" fill="#ff6200"/>
<rect x="1573.32" y="444.49" width="18.98" height="18.98" fill="#ff8c00"/>
<rect x="1250.70" y="425.51" width="18.98" height="18.98" fill="#ff7800"/>
<rect x="1269.68" y="425.51" width="37.95" height="18.98" fill="#ff8c00"/>
<rect x="1440.48" y="425.51" width="18.98" height="18.98" fill="#00ffff"/>
<rect x="1459.45" y="425.51" width="18.98" height="18.98" fill="#ffa400"/>
<rect x="1478.43" y="425.51" width="18.98" height="18.98" fill="#ff7800"/>
<rect x="1516.39" y="425.51" width="18.98" height="18.98" fill="#ff7800"/>
<rect x="1535.36" y="425.51" width="18.98" height="18.98" fill="#20d2ea"/>
<rect x="1554.34" y="425.51" width="18.98" height="18.98" fill="#ff7800"/>
<rect x="1573.32" y="425.51" width="18.98" height="18.98" fill="#ff6200"/>
<rect x="1592.30" y="425.51" width="18.98" height="18.98" fill="#20d2ea"/>
<rect x="1440.48" y="406.54" width="56.93" height="18.98" fill="#20d2ea"/>
<rect x="1497.41" y="406.54" width="18.98" height="18.98" fill="#ff7800"/>
<rect x="1535.36" y="406.54" width="18.98" height="18.98" fill="#ff7800"/>
<rect x="1554.34" y="406.54" width="18.98" height="18.98" fill="#20d2ea"/>
<rect x="1573.32" y="406.54" width="18.98" height="18.98" fill="#ff7800"/>
<rect x="1592.30" y="406.54" width="18.98" height="18.98" fill="#ff6200"/>
<rect x="1611.27" y="406.54" width="18.98" height="18.98" fill="#20d2ea"/>
<rect x="1421.50" y="387.56" width="56.93" height="18.98" fill="#4890c8"/>
<rect x="1478.43" y="387.56" width="37.95" height="18.98" fill="#20d2ea"/>
<rect x="1516.39" y="387.56" width="18.98" height="18.98" fill="#ff7800"/>
<rect x="1554.34" y="387.56" width="18.98" height="18.98" fill="#ff7800"/>
<rect x="1573.32" y="387.56" width="18.98" height="18.98" fill="#20d2ea"/>
<rect x="1592.30" y="387.56" width="18.98" height="18.98" fill="#ff7800"/>
<rect x="1611.27" y="387.56" width="18.98" height="18.98" fill="#ff3a00"/>
<rect x="1630.25" y="387.56" width="18.98" height="18.98" fill="#14e4f2"/>
<rect x="1269.68" y="368.58" width="37.95" height="18.98" fill="#ff8c00"/>
<rect x="1307.64" y="368.58" width="18.98" height="18.98" fill="#ff7800"/>
<rect x="1402.52" y="368.58" width="56.93" height="18.98" fill="#20d2ea"/>
<rect x="1459.45" y="368.58" width="18.98" height="18.98" fill="#00ffff"/>
<rect x="1478.43" y="368.58" width="18.98" height="18.98" fill="#ff6200"/>
<rect x="1497.41" y="368.58" width="18.98" height="18.98" fill="#ff7800"/>
<rect x="1516.39" y="368.58" width="18.98" height="18.98" fill="#20d2ea"/>
<rect x="1535.36" y="368.58" width="18.98" height="18.98" fill="#ff7800"/>
<rect x="1573.32" y="368.58" width="18.98" height="18.98" fill="#ff7800"/>
<rect x="1592.30" y="368.58" width="18.98" height="18.98" fill="#20d2ea"/>
<rect x="1611.27" y="368.58" width="18.98" height="18.98" fill="#ff7800"/>
<rect x="1630.25" y="368.58" width="18.98" height="18.98" fill="#ff3a00"/>
<rect x="1649.23" y="368.58" width="18.98" height="18.98" fill="#20d2ea"/>
<rect x="1478.43" y="349.60" width="18.98" height="18.98" fill="#ff8c00"/>
<rect x="1497.41" y="349.60" width="18.98" height="18.98" fill="#ff6200"/>
<rect x="1516.39" y="349.60" width="18.98" height="18.98" fill="#ff7800"/>
<rect x="1535.36" y="349.60" width="18.98" height="18.98" fill="#20d2ea"/>
<rect x="1554.34" y="349.60" width="18.98" height="18.98" fill="#ff7800"/>
<rect x="1592.30" y="349.60" width="18.98" height="18.98" fill="#ff7800"/>
<rect x="1611.27" y="349.60" width="18.98" height="18.98" fill="#20d2ea"/>
<rect x="1630.25" y="349.60" width="18.98" height="18.98" fill="#ff7800"/>
<rect x="1649.23" y="349.60" width="18.98" height="18.98" fill="#ff6200"/>
<rect x="1668.20" y="349.60" width="18.98" height="18.98" fill="#20d2ea"/>
<rect x="1497.41" y="330.63" width="18.98" height="18.98" fill="#20d2ea"/>
<rect x="1516.39" y="330.63" width="18.98" height="18.98" fill="#ff6200"/>
<rect x="1535.36" y="330.63" width="18.98" height="18.98" fill="#ff7800"/>
<rect x="1554.34" y="330.63" width="18.98" height="18.98" fill="#20d2ea"/>
<rect x="1573.32" y="330.63" width="18.98" height="18.98" fill="#ff7800"/>
<rect x="1611.27" y="330.63" width="18.98" height="18.98" fill="#ff7800"/>
<rect x="1630.25" y="330.63" width="18.98" height="18.98" fill="#20d2ea"/>
<rect x="1649.23" y="330.63" width="18.98" height="18.98" fill="#ff7800"/>
<rect x="1668.20" y="330.63" width="18.98" height="18.98" fill="#ff6200"/>
<rect x="1440.48" y="311.65" width="18.98" height="18.98" fill="#4890c8"/>
<rect x="1516.39" y="311.65" width="18.98" height="18.98" fill="#20d2ea"/>
<rect x="1535.36" y="311.65" width="18.98" height="18.98" fill="#ff3a00"/>
<rect x="1554.34" y="311.65" width="18.98" height="18.98" fill="#ff7800"/>
<rect x="1573.32" y="311.65" width="18.98" height="18.98" fill="#20d2ea"/>
<rect x="1592.30" y="311.65" width="18.98" height="18.98" fill="#ff7800"/>
<rect x="1630.25" y="311.65" width="18.98" height="18.98" fill="#ff7800"/>
<rect x="1649.23" y="311.65" width="18.98" height="18.98" fill="#20d2ea"/>
<rect x="1668.20" y="311.65" width="18.98" height="18.98" fill="#ff7800"/>
<rect x="1687.18" y="311.65" width="18.98" height="18.98" fill="#ff3a00"/>
<rect x="1535.36" y="292.67" width="18.98" height="18.98" fill="#14e4f2"/>
<rect x="1554.34" y="292.67" width="18.98" height="18.98" fill="#ff3a00"/>
<rect x="1573.32" y="292.67" width="18.98" height="18.98" fill="#ff7800"/>
<rect x="1592.30" y="292.67" width="18.98" height="18.98" fill="#20d2ea"/>
<rect x="1611.27" y="292.67" width="18.98" height="18.98" fill="#ff7800"/>
<rect x="1649.23" y="292.67" width="18.98" height="18.98" fill="#ff7800"/>
<rect x="1668.20" y="292.67" width="18.98" height="18.98" fill="#20d2ea"/>
<rect x="1687.18" y="292.67" width="18.98" height="18.98" fill="#ff7800"/>
<rect x="1706.16" y="292.67" width="18.98" height="18.98" fill="#ff3a00"/>
<rect x="1554.34" y="273.70" width="18.98" height="18.98" fill="#20d2ea"/>
<rect x="1573.32" y="273.70" width="18.98" height="18.98" fill="#ff6200"/>
<rect x="1592.30" y="273.70" width="18.98" height="18.98" fill="#ff7800"/>
<rect x="1611.27" y="273.70" width="18.98" height="18.98" fill="#20d2ea"/>
<rect x="1630.25" y="273.70" width="18.98" height="18.98" fill="#ff7800"/>
<rect x="1668.20" y="273.70" width="56.93" height="18.98" fill="#20d2ea"/>
<rect x="1725.14" y="273.70" width="18.98" height="18.98" fill="#14e4f2"/>
<rect x="1573.32" y="254.72" width="18.98" height="18.98" fill="#20d2ea"/>
<rect x="1592.30" y="254.72" width="18.98" height="18.98" fill="#ff6200"/>
<rect x="1611.27" y="254.72" width="18.98" height="18.98" fill="#ff7800"/>
<rect x="1630.25" y="254.72" width="37.95" height="18.98" fill="#20d2ea"/>
<rect x="1687.18" y="254.72" width="18.98" height="18.98" fill="#20d2ea"/>
<rect x="1706.16" y="254.72" width="18.98" height="18.98" fill="#38a8d8"/>
<rect x="1725.14" y="254.72" width="18.98" height="18.98" fill="#4890c8"/>
<rect x="1611.27" y="235.74" width="18.98" height="18.98" fill="#ff3a00"/>
<rect x="1630.25" y="235.74" width="18.98" height="18.98" fill="#ff7800"/>
<rect x="1649.23" y="235.74" width="37.95" height="18.98" fill="#20d2ea"/>
<rect x="1706.16" y="235.74" width="18.98" height="18.98" fill="#20d2ea"/>
<rect x="1725.14" y="235.74" width="37.95" height="18.98" fill="#14e4f2"/>
<rect x="1630.25" y="216.76" width="18.98" height="18.98" fill="#ff3a00"/>
<rect x="1649.23" y="216.76" width="18.98" height="18.98" fill="#20d2ea"/>
<rect x="1668.20" y="216.76" width="18.98" height="18.98" fill="#38a8d8"/>
<rect x="1687.18" y="216.76" width="18.98" height="18.98" fill="#20d2ea"/>
<rect x="1725.14" y="216.76" width="18.98" height="18.98" fill="#ff7800"/>
<rect x="1744.11" y="216.76" width="18.98" height="18.98" fill="#ffa400"/>
<rect x="1763.09" y="216.76" width="18.98" height="18.98" fill="#00ffff"/>
<rect x="1649.23" y="197.79" width="18.98" height="18.98" fill="#14e4f2"/>
<rect x="1668.20" y="197.79" width="18.98" height="18.98" fill="#4890c8"/>
<rect x="1687.18" y="197.79" width="18.98" height="18.98" fill="#14e4f2"/>
<rect x="1706.16" y="197.79" width="18.98" height="18.98" fill="#ff7800"/>
<rect x="1744.11" y="197.79" width="18.98" height="18.98" fill="#ff7800"/>
<rect x="1763.09" y="197.79" width="18.98" height="18.98" fill="#ff8c00"/>
<rect x="1687.18" y="178.81" width="18.98" height="18.98" fill="#14e4f2"/>
<rect x="1706.16" y="178.81" width="18.98" height="18.98" fill="#ffa400"/>
<rect x="1725.14" y="178.81" width="18.98" height="18.98" fill="#ff7800"/>
<rect x="1763.09" y="178.81" width="18.98" height="18.98" fill="#ff7800"/>
<rect x="1782.07" y="178.81" width="37.95" height="18.98" fill="#ff3a00"/>
<rect x="1706.16" y="159.83" width="18.98" height="18.98" fill="#00ffff"/>
<rect x="1725.14" y="159.83" width="18.98" height="18.98" fill="#ff8c00"/>
<rect x="1744.11" y="159.83" width="18.98" height="18.98" fill="#ff7800"/>
<rect x="1782.07" y="159.83" width="18.98" height="18.98" fill="#ff7800"/>
<rect x="1801.05" y="159.83" width="18.98" height="18.98" fill="#ff1a00"/>
<rect x="1744.11" y="140.85" width="18.98" height="18.98" fill="#ff3a00"/>
<rect x="1763.09" y="140.85" width="18.98" height="18.98" fill="#ff7800"/>
<rect x="1801.05" y="140.85" width="18.98" height="18.98" fill="#ff7800"/>
<rect x="1820.02" y="140.85" width="18.98" height="18.98" fill="#ff3a00"/>
<rect x="1744.11" y="121.88" width="18.98" height="18.98" fill="#ff3a00"/>
<rect x="1763.09" y="121.88" width="18.98" height="18.98" fill="#ff1a00"/>
<rect x="1782.07" y="121.88" width="18.98" height="18.98" fill="#ff7800"/>
<rect x="1820.02" y="121.88" width="18.98" height="18.98" fill="#ff7800"/>
<rect x="1782.07" y="102.90" width="18.98" height="18.98" fill="#ff3a00"/>
<rect x="1801.05" y="102.90" width="18.98" height="18.98" fill="#ff7800"/>
</g>
<g shape-rendering="crispEdges">
<rect x="1862.00" y="1668.53" width="12.30" height="104.67" fill="#ff0000"/>
<rect x="1862.00" y="1564.15" width="12.30" height="104.67" fill="#ff1a00"/>
<rect x="1862.00" y="1459.78" width="12.30" height="104.67" fill="#ff3a00"/>
<rect x="1862.00" y="1355.40" width="12.30" height="104.67" fill="#ff6200"/>
<rect x="1862.00" y="1251.03" width="12.30" height="104.67" fill="#ff7800"/>
<rect x="1862.00" y="1146.65" width="12.30" height="104.67" fill="#ff8c00"/>
<rect x="1862.00" y="1042.28" width="12.30" height="104.67" fill="#ffa400"/>
<rect x="1862.00" y="937.90" width="12.30" height="104.67" fill="#00ffff"/>
<rect x="1862.00" y="833.53" width="12.30" height="104.67" fill="#18dcee"/>
<rect x="1862.00" y="729.15" width="12.30" height="104.67" fill="#22d0ea"/>
<rect x="1862.00" y="624.78" width="12.30" height="104.67" fill="#2ac2e4"/>
<rect x="1862.00" y="520.40" width="12.30" height="104.67" fill="#32b4de"/>
<rect x="1862.00" y="416.03" width="12.30" height="104.67" fill="#3aa4d6"/>
<rect x="1862.00" y="311.65" width="12.30" height="104.67" fill="#4890c8"/>
<rect x="1862.00" y="207.28" width="12.30" height="104.67" fill="#5080c0"/>
<rect x="1862.00" y="102.90" width="12.30" height="104.67" fill="#ffffff"/>
</g>
<g fill="none" stroke="#000" stroke-width="5.80" stroke-linejoin="round" stroke-linecap="round">
<rect x="169.00" y="102.90" width="1670.00" height="1670.00"/>
<rect x="1862.00" y="102.90" width="12.30" height="1670.00"/>
<path d="M539.06 1772.90V1778.80M539.06 102.90V97.00M169.00 1402.84H163.10M1839.00 1402.84H1844.90"/>
<path d="M918.60 1772.90V1778.80M918.60 102.90V97.00M169.00 1023.30H163.10M1839.00 1023.30H1844.90"/>
<path d="M1298.15 1772.90V1778.80M1298.15 102.90V97.00M169.00 643.75H163.10M1839.00 643.75H1844.90"/>
<path d="M1677.69 1772.90V1778.80M1677.69 102.90V97.00M169.00 264.21H163.10M1839.00 264.21H1844.90"/>
<path d="M1874.30 1712.50H1878.20"/>
<path d="M1874.30 1293.76H1878.20"/>
<path d="M1874.30 875.03H1878.20"/>
<path d="M1874.30 456.29H1878.20"/>
</g>
<g font-family="Liberation Sans" font-weight="bold" fill="#000">
<text transform="matrix(0.9450 0 0 1 506.21 1828.17)" font-size="63.20">20</text>
<text transform="matrix(0.9450 0 0 1 91.90 1424.85)" font-size="63.20">20</text>
<text transform="matrix(0.9450 0 0 1 886.35 1828.17)" font-size="63.20">40</text>
<text transform="matrix(0.9450 0 0 1 91.90 1045.30)" font-size="63.20">40</text>
<text transform="matrix(0.9450 0 0 1 1265.30 1828.17)" font-size="63.20">60</text>
<text transform="matrix(0.9450 0 0 1 91.90 665.76)" font-size="63.20">60</text>
<text transform="matrix(0.9450 0 0 1 1644.84 1828.17)" font-size="63.20">80</text>
<text transform="matrix(0.9450 0 0 1 91.90 286.21)" font-size="63.20">80</text>
<text transform="matrix(0.9351 0 0 1 802.02 1883.80)" font-size="63.80">Residue index</text>
<text transform="matrix(0 -0.9351 1 0 80.00 1139.38)" font-size="63.80">Residue index</text>
<text transform="matrix(0.9670 0 0 1 1882.60 1730.15)" font-size="50.30">0</text>
<text transform="matrix(0.9670 0 0 1 1882.60 1311.42)" font-size="50.30">50</text>
<text transform="matrix(0.9670 0 0 1 1882.60 892.68)" font-size="50.30">100</text>
<text transform="matrix(0.9670 0 0 1 1882.60 473.95)" font-size="50.30">150</text>
</g>
</svg></body></html>
